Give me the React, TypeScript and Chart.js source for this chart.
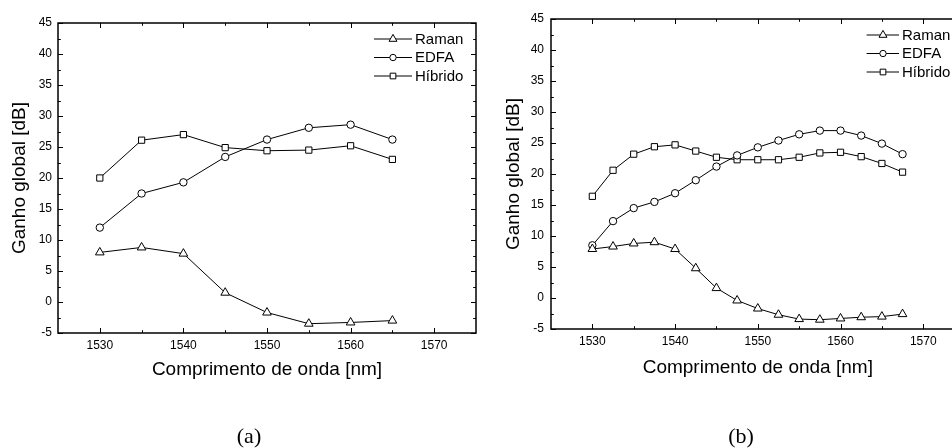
import React, { useEffect, useRef } from 'react';
import { Chart, registerables } from 'chart.js';

Chart.register(...registerables);

// ---------- data ----------
const wavelengthA = [1530, 1535, 1540, 1545, 1550, 1555, 1560, 1565];
const ramanA = [8.0, 8.8, 7.8, 1.5, -1.7, -3.5, -3.3, -3.0];
const edfaA = [12.0, 17.5, 19.3, 23.4, 26.2, 28.1, 28.6, 26.2];
const hibridoA = [20.0, 26.1, 27.0, 24.9, 24.4, 24.5, 25.2, 23.0];

const wavelengthB = [1530, 1532.5, 1535, 1537.5, 1540, 1542.5, 1545, 1547.5, 1550, 1552.5, 1555, 1557.5, 1560, 1562.5, 1565, 1567.5];
const ramanB = [7.9, 8.3, 8.8, 9.0, 7.9, 4.8, 1.6, -0.4, -1.7, -2.7, -3.4, -3.5, -3.3, -3.1, -3.0, -2.6];
const edfaB = [8.5, 12.4, 14.5, 15.5, 16.9, 19.0, 21.2, 23.0, 24.3, 25.4, 26.4, 27.0, 27.0, 26.2, 24.9, 23.2];
const hibridoB = [16.4, 20.6, 23.2, 24.4, 24.7, 23.7, 22.7, 22.3, 22.3, 22.3, 22.7, 23.4, 23.5, 22.8, 21.7, 20.3];

const seriesNames = ['Raman', 'EDFA', 'Híbrido'];
const markerStyles = ['triangle', 'circle', 'rect'];
const markerRadii = [5, 3.7, 4.4];
const legendRadii = [4.6, 3.2, 4.0];

const xMin = 1525;
const xMax = 1575;
const yMin = -5;
const yMax = 45;
const xMajorTicks = [1530, 1540, 1550, 1560, 1570];
const xMinorTicks = [1535, 1545, 1555, 1565];
const yMajorTicks = [-5, 0, 5, 10, 15, 20, 25, 30, 35, 40, 45];
const yMinorTicks = [-2.5, 2.5, 7.5, 12.5, 17.5, 22.5, 27.5, 32.5, 37.5, 42.5];

const xTitle = 'Comprimento de onda [nm]';
const yTitle = 'Ganho global [dB]';
const panelLabels = ['(a)', '(b)'];

const FONT = "'Liberation Sans', Arial, sans-serif";

type PanelCfg = {
  left: number;
  width: number;
  padTop: number;
  padRight: number;
  yWidth: number;
  xHeight: number;
  yTickPad: number;
  xTickPad: number;
  xTitlePad: number;
  yTitlePad: number;
  legLineStart: number;
  legLineEnd: number;
  legMarker: number;
  legText: number;
};

const panelA: PanelCfg = {
  left: 0, width: 482, padTop: 23, padRight: 2, yWidth: 58, xHeight: 115,
  yTickPad: 6, xTickPad: 5, xTitlePad: 66.6, yTitlePad: 8,
  legLineStart: -102, legLineEnd: -64, legMarker: -83, legText: -61,
};
const panelB: PanelCfg = {
  left: 480, width: 492, padTop: 19, padRight: 7.4, yWidth: 71, xHeight: 119,
  yTickPad: 7, xTickPad: 5.5, xTitlePad: 69, yTitlePad: 22.6,
  legLineStart: -98, legLineEnd: -65.6, legMarker: -81.6, legText: -62.6,
};

function drawMarker(ctx: CanvasRenderingContext2D, style: string, x: number, y: number, r: number) {
  ctx.beginPath();
  if (style === 'circle') {
    ctx.arc(x, y, r, 0, Math.PI * 2);
  } else if (style === 'rect') {
    const s = r * Math.SQRT1_2;
    ctx.rect(x - s, y - s, 2 * s, 2 * s);
  } else {
    let rad = 0;
    const t = (2 * Math.PI) / 3;
    ctx.moveTo(x + Math.sin(rad) * r, y - Math.cos(rad) * r);
    rad += t;
    ctx.lineTo(x + Math.sin(rad) * r, y - Math.cos(rad) * r);
    rad += t;
    ctx.lineTo(x + Math.sin(rad) * r, y - Math.cos(rad) * r);
    ctx.closePath();
  }
  ctx.fillStyle = '#fff';
  ctx.fill();
  ctx.stroke();
}

function makeFramePlugin(cfg: PanelCfg) {
  return {
    id: 'frameAndLegend',
    beforeDatasetsDraw(chart: any) {
      const { ctx, chartArea } = chart;
      const xs = chart.scales.x;
      const ys = chart.scales.y;
      const { left, right, top, bottom } = chartArea;
      ctx.save();
      ctx.strokeStyle = '#000';
      ctx.lineWidth = 1;
      const tick = (x1: number, y1: number, x2: number, y2: number) => {
        ctx.beginPath();
        ctx.moveTo(x1, y1);
        ctx.lineTo(x2, y2);
        ctx.stroke();
      };
      const major = 5;
      const minor = 2.8;
      xMajorTicks.forEach((v) => {
        const p = Math.round(xs.getPixelForValue(v)) + 0.5;
        tick(p, bottom, p, bottom - major);
        tick(p, top, p, top + major);
      });
      xMinorTicks.forEach((v) => {
        const p = Math.round(xs.getPixelForValue(v)) + 0.5;
        tick(p, bottom, p, bottom - minor);
        tick(p, top, p, top + minor);
      });
      yMajorTicks.forEach((v) => {
        const p = Math.round(ys.getPixelForValue(v)) + 0.5;
        tick(left, p, left + major, p);
        tick(right, p, right - major, p);
      });
      yMinorTicks.forEach((v) => {
        const p = Math.round(ys.getPixelForValue(v)) + 0.5;
        tick(left, p, left + minor, p);
        tick(right, p, right - minor, p);
      });
      ctx.lineWidth = 1.5;
      ctx.strokeRect(left, top, right - left, bottom - top);
      ctx.restore();
    },
    afterDraw(chart: any) {
      const { ctx, chartArea } = chart;
      const { right, top } = chartArea;
      const rows = [16, 34.5, 53];
      ctx.save();
      ctx.strokeStyle = '#000';
      ctx.lineWidth = 1;
      ctx.font = `15px ${FONT}`;
      ctx.textBaseline = 'middle';
      ctx.textAlign = 'left';
      seriesNames.forEach((name, i) => {
        const y = top + rows[i];
        ctx.beginPath();
        ctx.moveTo(right + cfg.legLineStart, y);
        ctx.lineTo(right + cfg.legLineEnd, y);
        ctx.stroke();
        drawMarker(ctx, markerStyles[i], right + cfg.legMarker, y, legendRadii[i]);
        ctx.fillStyle = '#000';
        ctx.fillText(name, right + cfg.legText, y + 0.5);
      });
      ctx.restore();
    },
  };
}

function Panel({ cfg, xs, series }: { cfg: PanelCfg; xs: number[]; series: number[][] }) {
  const ref = useRef<HTMLCanvasElement | null>(null);
  useEffect(() => {
    if (!ref.current) return;
    const datasets = series.map((vals, i) => ({
      label: seriesNames[i],
      data: xs.map((x, j) => ({ x, y: vals[j] })),
      borderColor: '#000',
      borderWidth: 1,
      backgroundColor: '#fff',
      pointStyle: markerStyles[i] as any,
      pointRadius: markerRadii[i],
      pointBackgroundColor: '#fff',
      pointBorderColor: '#000',
      pointBorderWidth: 1,
      tension: 0,
      fill: false,
    }));
    const chart = new Chart(ref.current, {
      type: 'line',
      data: { datasets },
      options: {
        animation: false,
        responsive: false,
        maintainAspectRatio: false,
        events: [],
        layout: { padding: { left: 0, top: cfg.padTop, right: cfg.padRight, bottom: 0 } },
        plugins: { legend: { display: false }, tooltip: { enabled: false } },
        scales: {
          x: {
            type: 'linear',
            min: xMin,
            max: xMax,
            grid: { display: false, drawTicks: false },
            border: { display: false },
            afterBuildTicks: (scale: any) => {
              scale.ticks = xMajorTicks.map((v) => ({ value: v }));
            },
            afterFit: (scale: any) => {
              scale.height = cfg.xHeight;
            },
            ticks: {
              color: '#000',
              padding: cfg.xTickPad,
              maxRotation: 0,
              autoSkip: false,
              font: { family: FONT, size: 12 },
              callback: (v: any) => String(v),
            },
            title: {
              display: true,
              text: xTitle,
              color: '#000',
              font: { family: FONT, size: 19 },
              padding: { top: 0, bottom: cfg.xTitlePad },
            },
          },
          y: {
            type: 'linear',
            min: yMin,
            max: yMax,
            grid: { display: false, drawTicks: false },
            border: { display: false },
            afterBuildTicks: (scale: any) => {
              scale.ticks = yMajorTicks.map((v) => ({ value: v }));
            },
            afterFit: (scale: any) => {
              scale.width = cfg.yWidth;
            },
            ticks: {
              color: '#000',
              padding: cfg.yTickPad,
              autoSkip: false,
              font: { family: FONT, size: 12 },
              callback: (v: any) => String(v),
            },
            title: {
              display: true,
              text: yTitle,
              color: '#000',
              font: { family: FONT, size: 19 },
              padding: { top: cfg.yTitlePad, bottom: 0 },
            },
          },
        },
      },
      plugins: [makeFramePlugin(cfg)],
    });
    return () => chart.destroy();
  }, []);
  return (
    <canvas
      ref={ref}
      width={cfg.width}
      height={448}
      style={{ position: 'absolute', left: cfg.left, top: 0, width: cfg.width, height: 448, display: 'block' }}
    />
  );
}

export default function App() {
  const labelStyle = (cx: number): React.CSSProperties => ({
    position: 'absolute',
    left: cx,
    top: 436,
    transform: 'translate(-50%, -50%)',
    fontFamily: "'Liberation Serif', 'Times New Roman', serif",
    fontSize: 22,
    lineHeight: 1,
    color: '#000',
    whiteSpace: 'nowrap',
  });
  return (
    <div
      style={{
        position: 'fixed',
        left: 0,
        top: 0,
        width: 952,
        height: 448,
        overflow: 'hidden',
        background: '#fff',
      }}
    >
      <Panel cfg={panelA} xs={wavelengthA} series={[ramanA, edfaA, hibridoA]} />
      <Panel cfg={panelB} xs={wavelengthB} series={[ramanB, edfaB, hibridoB]} />
      <div style={labelStyle(249)}>{panelLabels[0]}</div>
      <div style={labelStyle(741)}>{panelLabels[1]}</div>
    </div>
  );
}
